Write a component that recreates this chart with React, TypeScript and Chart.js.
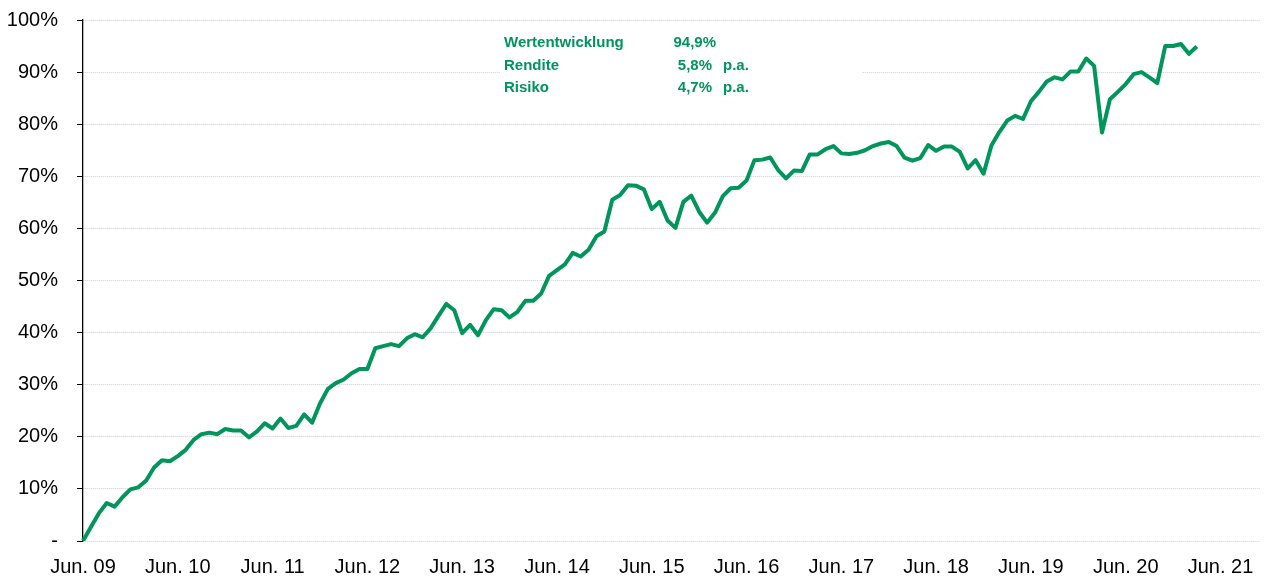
import React, { useEffect, useRef } from "react";
import { Chart, registerables } from "chart.js";

Chart.register(...registerables);

const yearLabels = [
  "Jun. 09", "Jun. 10", "Jun. 11", "Jun. 12", "Jun. 13", "Jun. 14", "Jun. 15",
  "Jun. 16", "Jun. 17", "Jun. 18", "Jun. 19", "Jun. 20", "Jun. 21",
];
const monthsPerYear = 12;
const categoryCount = 150;

const performance = [
  0, 2.7, 5.3, 7.3, 6.6, 8.4, 9.9, 10.3, 11.6, 14.1, 15.5, 15.3,
  16.3, 17.5, 19.4, 20.5, 20.8, 20.5, 21.5, 21.2, 21.2, 19.9, 21.0, 22.6,
  21.6, 23.5, 21.7, 22.1, 24.3, 22.7, 26.4, 29.2, 30.3, 31.0, 32.2, 33.0,
  33.0, 37.0, 37.4, 37.8, 37.4, 38.9, 39.7, 39.1, 40.8, 43.2, 45.5, 44.3,
  39.9, 41.5, 39.5, 42.4, 44.5, 44.3, 42.9, 44.0, 46.1, 46.1, 47.5, 50.9,
  52.0, 53.1, 55.3, 54.6, 55.9, 58.5, 59.4, 65.5, 66.4, 68.3, 68.2, 67.5,
  63.7, 65.1, 61.5, 60.1, 65.1, 66.3, 63.2, 61.1, 63.0, 66.2, 67.7, 67.8,
  69.2, 73.1, 73.2, 73.6, 71.2, 69.6, 71.1, 71.0, 74.2, 74.2, 75.2, 75.8,
  74.4, 74.3, 74.5, 75.0, 75.8, 76.3, 76.6, 75.8, 73.6, 73.0, 73.5, 76.0,
  74.9, 75.7, 75.7, 74.7, 71.5, 73.1, 70.5, 75.9, 78.5, 80.7, 81.6, 81.0,
  84.4, 86.2, 88.2, 89.0, 88.6, 90.1, 90.1, 92.6, 91.2, 78.4, 84.8, 86.2,
  87.7, 89.6, 90.0, 89.0, 87.9, 95.0, 95.0, 95.4, 93.5, 94.9,
];

const statNames = ["Wertentwicklung", "Rendite", "Risiko"];
const statValues = ["94,9%", "5,8%", "4,7%"];
const statUnits = ["", "p.a.", "p.a."];

const GREEN = "#00955B";
const FONT = "'Liberation Sans', Arial, sans-serif";

const categories: string[] = [];
for (let i = 0; i < categoryCount; i++) {
  categories.push(i % monthsPerYear === 0 ? yearLabels[i / monthsPerYear] || "" : "");
}

const statsPlugin = {
  id: "statsBox",
  afterDraw(chart: any) {
    const ctx = chart.ctx;
    ctx.save();
    ctx.fillStyle = "#ffffff";
    ctx.fillRect(500, 26, 362, 72);
    ctx.fillStyle = GREEN;
    ctx.font = `bold 15px ${FONT}`;
    ctx.textBaseline = "alphabetic";
    const baselines = [47, 69.5, 92];
    const valueRight = [716, 712, 712];
    for (let i = 0; i < statNames.length; i++) {
      ctx.textAlign = "left";
      ctx.fillText(statNames[i], 504, baselines[i]);
      ctx.textAlign = "right";
      ctx.fillText(statValues[i], valueRight[i], baselines[i]);
      if (statUnits[i]) {
        ctx.textAlign = "left";
        ctx.fillText(statUnits[i], 723, baselines[i]);
      }
    }
    ctx.restore();
  },
};

export default function App() {
  const ref = useRef<HTMLCanvasElement | null>(null);
  useEffect(() => {
    document.body.style.margin = "0";
    if (!ref.current) return;
    const chart = new Chart(ref.current, {
      type: "line",
      data: {
        labels: categories,
        datasets: [
          {
            data: performance,
            borderColor: GREEN,
            borderWidth: 4,
            pointRadius: 0,
            tension: 0,
            fill: false,
            borderJoinStyle: "round",
          },
        ],
      },
      options: {
        responsive: false,
        animation: false,
        events: [],
        layout: { padding: { left: 5, right: 0, top: 0, bottom: 0 } },
        plugins: { legend: { display: false }, tooltip: { enabled: false } },
        scales: {
          x: {
            type: "category",
            offset: false,
            afterFit: (s: any) => {
              s.height = 36;
              s.paddingLeft = 0;
              s.paddingRight = 4;
            },
            grid: { display: false, drawTicks: false },
            border: { display: false },
            ticks: {
              autoSkip: false,
              maxRotation: 0,
              minRotation: 0,
              padding: 14,
              color: "#000",
              font: { family: FONT, size: 20 },
              callback: (_v: any, i: number) => categories[i],
            },
          },
          y: {
            min: 0,
            max: 100,
            afterFit: (s: any) => {
              s.width = 78;
              s.paddingTop = 20;
              s.paddingBottom = 0;
            },
            grid: {
              color: "#cfcfcf",
              lineWidth: 1,
              tickColor: "#000",
              tickLength: 6,
              tickBorderDash: [],
            } as any,
            border: { display: true, color: "#000", width: 1.3, dash: [1, 1] },
            ticks: {
              stepSize: 10,
              padding: 19,
              color: "#000",
              font: { family: FONT, size: 20 },
              callback: (v: any) => (Number(v) === 0 ? "-" : `${v}%`),
            },
          },
        },
      },
      plugins: [statsPlugin],
    } as any);
    return () => chart.destroy();
  }, []);
  return <canvas ref={ref} width={1264} height={577} style={{ display: "block" }} />;
}
